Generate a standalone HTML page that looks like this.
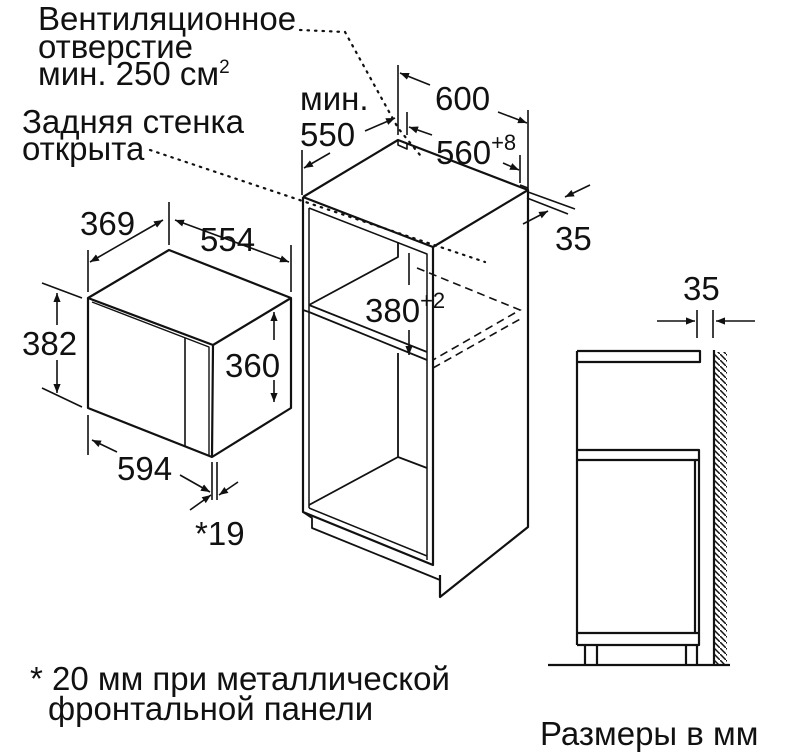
<!DOCTYPE html>
<html><head><meta charset="utf-8"><style>
html,body{margin:0;padding:0;background:#fff;}
svg{display:block;}
text{font-family:"Liberation Sans","DejaVu Sans",sans-serif;fill:#111;}
</style></head><body>
<svg width="790" height="755" viewBox="0 0 790 755" xmlns="http://www.w3.org/2000/svg">
<defs>
<marker id="a" viewBox="0 0 10 10" refX="10" refY="5" markerWidth="9" markerHeight="9" orient="auto-start-reverse" markerUnits="userSpaceOnUse"><path d="M0,1 L10,5 L0,9 z" fill="#111"/></marker>
<pattern id="h" width="6" height="6" patternUnits="userSpaceOnUse"><path d="M0,0 L6,6" stroke="#111" stroke-width="1.5"/></pattern>
</defs>
<g font-size="33">
<text x="38" y="30">Вентиляционное</text>
<text x="38" y="58">отверстие</text>
<text x="38" y="85">мин. 250 см<tspan font-size="19" dy="-12">2</tspan></text>
<text x="22" y="133">Задняя стенка</text>
<text x="22" y="160">открыта</text>
<text x="30" y="690">* 20 мм при металлической</text>
<text x="48" y="720">фронтальной панели</text>
<text x="540" y="745">Размеры в мм</text>
<text x="80" y="235">369</text>
<text x="200" y="251">554</text>
<text x="22" y="355">382</text>
<text x="225" y="377">360</text>
<text x="117" y="480">594</text>
<text x="195" y="545">*19</text>
<text x="300" y="110">мин.</text>
<text x="300" y="146">550</text>
<text x="435" y="110">600</text>
<text x="436" y="164">560<tspan font-size="22" dy="-14">+8</tspan></text>
<text x="555" y="250">35</text>
<text x="365" y="322">380<tspan font-size="22" dy="-14">+2</tspan></text>
<text x="683" y="300">35</text>
</g>
<g fill="none" stroke="#111" stroke-width="2.2" stroke-linejoin="round">
<path d="M88,298 L169,250 L291,298 L291,408 L212,457 L88,408 Z"/>
<path d="M88,298 L213,345 L291,298 M213,345 L212,457"/>
<path d="M92,302 L209,347 L209,455" stroke-width="1.4"/>
<path d="M185,338 L185,447" stroke-width="1.6"/>
<path d="M303,197 L398,140 L528,190 L528,527 L440,597 L440,575"/>
<path d="M303,197 L433,247 L528,190"/>
<path d="M303,197 L303,512 L433,565 L433,247"/>
<path d="M309,208 L309,508 M309,208 L427,254 L427,560 M309,508 L427,556" stroke-width="1.5"/>
<path d="M303,512 L312,518 L312,528 L440,580" stroke-width="1.8"/>
<path d="M398,140 L398,145 L407,149 L407,143" stroke-width="1.6"/>
<path d="M520,185 L528,188" stroke-width="1.6"/>
<path d="M398,242 L398,257 L309,305 M309,305 L427,352 M309,312 L427,360 M303,310 L309,312" stroke-width="1.8"/>
<path d="M398,353 L398,457 L309,505 M398,457 L427,468" stroke-width="1.8"/>
<path d="M577,351 L700,351 L700,362 L577,362 M577,351 L577,645 M577,450 L699,450 L699,645 L577,645 M577,460 L699,460 M577,633 L699,633 M695,460 L695,633"/>
<path d="M585,645 L585,665 M597,645 L597,665 M686,645 L686,665 M697,645 L697,665"/>
<path d="M548,665 L730,665 M714,350 L714,665"/>
</g>
<rect x="715" y="352" width="12" height="312" fill="url(#h)"/>
<g fill="none" stroke="#111" stroke-width="1.6">
<path d="M169,202 L169,245 M88,250 L88,292 M291,245 L291,292 M42,283 L82,298 M42,388 L82,407 M88,415 L88,455 M212,462 L212,500 M217,462 L217,500"/>
<path d="M90,262 L163,220" marker-start="url(#a)" marker-end="url(#a)"/>
<path d="M175,220 L289,262" marker-start="url(#a)" marker-end="url(#a)"/>
<path d="M57,293 L57,325 M57,360 L57,393" marker-end="url(#a)" marker-start="url(#a)"/>
<path d="M274,312 L274,340 M274,380 L274,402" marker-start="url(#a)" marker-end="url(#a)"/>
<path d="M92,440 L117,452" marker-start="url(#a)"/>
<path d="M180,475 L210,492" marker-end="url(#a)"/>
<path d="M190,510 L211,495" marker-end="url(#a)"/>
<path d="M238,482 L219,495" marker-end="url(#a)"/>
<path d="M398,65 L398,135 M528,110 L528,225 M302,150 L302,195 M407,112 L407,135 M520,155 L520,183"/>
<path d="M430,85 L400,73" marker-end="url(#a)"/>
<path d="M498,112 L527,123" marker-end="url(#a)"/>
<path d="M365,131 L395,118" marker-end="url(#a)"/>
<path d="M330,153 L304,168" marker-end="url(#a)"/>
<path d="M432,135 L409,127" marker-end="url(#a)"/>
<path d="M503,163 L519,170" marker-end="url(#a)"/>
<path d="M528,192 L575,209 M527,198 L568,214"/>
<path d="M590,185 L565,197" marker-end="url(#a)"/>
<path d="M523,224 L548,211" marker-end="url(#a)"/>
<path d="M409,285 L409,253 M409,330 L409,355" marker-end="url(#a)"/>
<path d="M697,310 L697,338 M713,310 L713,338"/>
<path d="M657,321 L695,321" marker-end="url(#a)"/>
<path d="M755,321 L716,321" marker-end="url(#a)"/>
<path d="M417,268 L520,310 L433,360 M433,368 L522,318" stroke-dasharray="8,5"/>
</g>
<g fill="none" stroke="#111" stroke-width="2.2" stroke-dasharray="1.5,6" stroke-linecap="round">
<path d="M150,150 L485,262"/>
<path d="M300,30 L345,32 L398,128 L420,155"/>
</g>
</svg>
</body></html>
